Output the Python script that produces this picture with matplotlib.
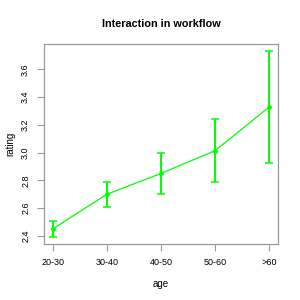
import matplotlib
matplotlib.use("Agg")
import matplotlib.pyplot as plt

# data
age_groups = ["20-30", "30-40", "40-50", "50-60", ">60"]
rating_mean = [2.45, 2.70, 2.85, 3.015, 3.33]
rating_low = [2.395, 2.605, 2.705, 2.79, 2.925]
rating_high = [2.51, 2.79, 3.00, 3.24, 3.73]

plt.rcParams["font.family"] = ["Liberation Sans", "DejaVu Sans"]

fig = plt.figure(figsize=(3, 3), dpi=100)
ax = fig.add_axes([44 / 300, 56 / 300, 234 / 300, 200 / 300])

x = list(range(1, len(age_groups) + 1))
err_lo = [m - l for m, l in zip(rating_mean, rating_low)]
err_hi = [h - m for m, h in zip(rating_mean, rating_high)]

ax.plot(x, rating_mean, color="#00ff00", lw=0.9, marker="o", ms=3.5,
        markeredgewidth=0)
ax.errorbar(x, rating_mean, yerr=[err_lo, err_hi], fmt="none",
            ecolor="#00ff00", elinewidth=1.4, capsize=3.2, capthick=1.1)

ax.set_xlim(1 - 0.16, 5 + 0.16)
ymin, ymax = min(rating_low), max(rating_high)
pad = (ymax - ymin) * 0.04
ax.set_ylim(ymin - pad, ymax + pad)

ax.set_xticks(x)
ax.set_xticklabels(age_groups)
ax.set_yticks([2.4, 2.6, 2.8, 3.0, 3.2, 3.4, 3.6])
ax.set_yticklabels(["2.4", "2.6", "2.8", "3.0", "3.2", "3.4", "3.6"],
                   rotation=90, va="center")

for s in ax.spines.values():
    s.set_color("#999999")
    s.set_linewidth(0.9)
ax.tick_params(colors="#999999", labelcolor="black", labelsize=6.5,
               length=5, width=0.8, pad=5)

ax.set_title("Interaction in workflow", fontsize=7.8, fontweight="bold",
             pad=12)
ax.set_xlabel("age", fontsize=7, labelpad=9)
ax.set_ylabel("rating", fontsize=7, labelpad=4)

fig.savefig("out.png", dpi=100)
